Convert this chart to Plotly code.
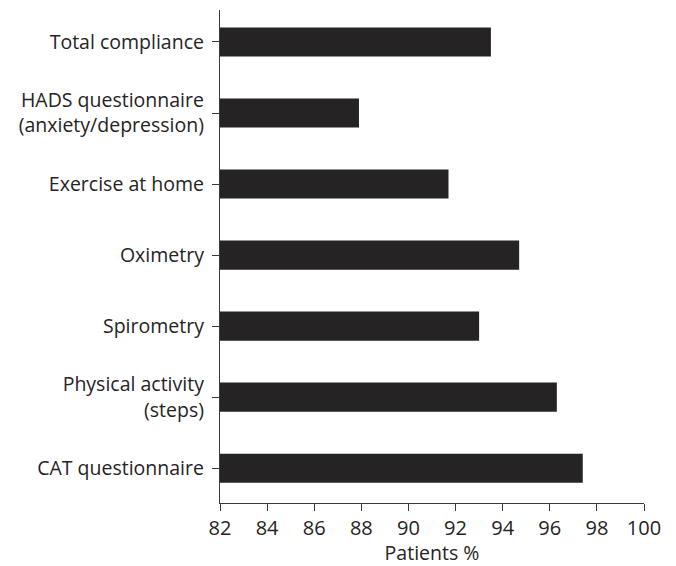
import plotly.graph_objects as go

categories = [
    "CAT questionnaire",
    "Physical activity<br>(steps)",
    "Spirometry",
    "Oximetry",
    "Exercise at home",
    "HADS questionnaire<br>(anxiety/depression)",
    "Total compliance",
]
values = [97.4, 96.3, 93.0, 94.7, 91.7, 87.9, 93.5]
x_ticks = [82, 84, 86, 88, 90, 92, 94, 96, 98, 100]

ink = "#262324"
axis_col = "#3a3a3a"
font_family = "Open Sans"

fig = go.Figure(
    go.Bar(
        y=list(range(len(categories))),
        x=values,
        orientation="h",
        marker=dict(color=ink, line=dict(width=0)),
        width=0.41,
    )
)

# page body adds an 8px offset; size and margins compensate for it
fig.update_layout(
    width=668,
    height=558,
    margin=dict(l=212, r=32, t=2, b=63),
    paper_bgcolor="white",
    plot_bgcolor="white",
    showlegend=False,
    font=dict(family=font_family, color=ink, size=19),
)

fig.update_xaxes(
    range=[82, 100],
    tickvals=x_ticks,
    ticktext=[str(v) for v in x_ticks],
    showgrid=False,
    zeroline=False,
    showline=True,
    linecolor=axis_col,
    linewidth=1.3,
    ticks="outside",
    ticklen=7,
    tickwidth=1.3,
    tickcolor=axis_col,
    tickfont=dict(size=20, family=font_family, color=ink),
    title=dict(text="Patients %", font=dict(size=19.5, family=font_family, color=ink), standoff=3),
)

fig.update_yaxes(
    range=[-0.49, 6.45],
    tickvals=list(range(len(categories))),
    ticktext=categories,
    showgrid=False,
    zeroline=False,
    showline=True,
    linecolor=axis_col,
    linewidth=1.3,
    ticks="outside",
    ticklen=7,
    tickwidth=1.3,
    tickcolor=axis_col,
    ticklabelstandoff=4,
    tickfont=dict(size=19.5, family=font_family, color=ink),
)

fig.write_html("out.html")
